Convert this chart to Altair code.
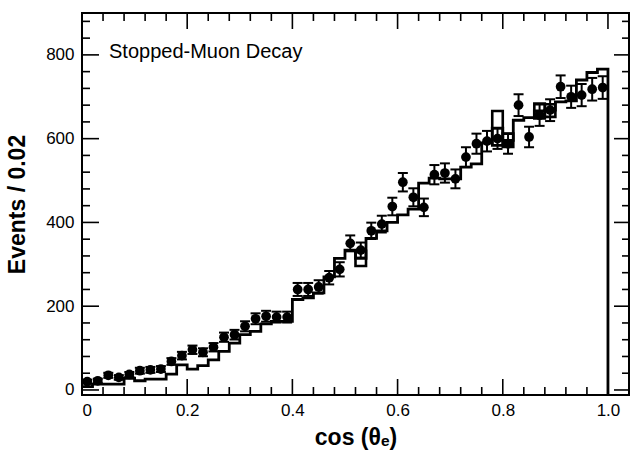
import altair as alt
import pandas as pd

# ---- data ----
n_bins = 50
bin_width = 0.02
data_counts = [20, 22, 35, 30, 37, 46, 48, 50, 68, 82,
               96, 90, 102, 126, 132, 152, 170, 176, 174, 174,
               240, 240, 246, 268, 288, 350, 334, 380, 396, 438,
               496, 460, 436, 514, 518, 504, 556, 588, 594, 600,
               588, 680, 604, 656, 668, 724, 700, 704, 718, 722]
data_errors = [4.5, 4.7, 6, 5.5, 6, 7, 7, 7, 8, 9,
               10, 9.5, 10, 11, 11.5, 12, 13, 13, 13, 13,
               15.5, 15.5, 16, 16, 17, 19, 18, 19.5, 20, 21,
               22, 21.5, 21, 23, 23, 22.5, 23.5, 24, 24.5, 24.5,
               24, 26, 24.5, 25.5, 26, 27, 26.5, 26.5, 27, 27]
mc_counts = [8, 14, 14, 14, 28, 22, 26, 26, 38, 60,
             50, 58, 72, 92, 112, 132, 140, 158, 164, 164,
             216, 220, 232, 270, 314, 334, 314, 362, 380, 400,
             418, 432, 494, 506, 504, 504, 532, 540, 590, 625,
             596, 644, 650, 666, 668, 688, 690, 740, 758, 766]
box_bins = [26, 39, 40, 43, 44]
box_lo = [296, 584, 580, 648, 652]
box_hi = [332, 666, 612, 684, 682]

x_major = [0.2, 0.4, 0.6, 0.8, 1.0]
x_minor = [0.04, 0.08, 0.12, 0.16, 0.24, 0.28, 0.32, 0.36, 0.44, 0.48, 0.52, 0.56,
           0.64, 0.68, 0.72, 0.76, 0.84, 0.88, 0.92, 0.96]
y_major = [200, 400, 600, 800]
y_minor = [40, 80, 120, 160, 240, 280, 320, 360, 440, 480, 520, 560,
           640, 680, 720, 760, 840, 880]
x_labels = [0, 0.2, 0.4, 0.6, 0.8, 1.0]
y_labels = [0, 200, 400, 600, 800]

title_text = "Stopped-Muon Decay"
x_title = "cos (θₑ)"
y_title = "Events / 0.02"

W, H = 547, 382
FONT = "Liberation Sans"

xs = alt.Scale(domain=[0, 1.04], nice=False, zero=False)
ys = alt.Scale(domain=[-12, 900], nice=False, zero=False)

# ---- tables ----
edges = [round(i * bin_width, 2) for i in range(n_bins)]
centers = [round(e + bin_width / 2, 3) for e in edges]

mc_df = pd.DataFrame({
    "x": edges + [1.0, 1.0],
    "y": mc_counts + [mc_counts[-1], -12],
    "o": list(range(n_bins + 2)),
})
pts_df = pd.DataFrame({
    "x": centers,
    "y": data_counts,
    "lo": [c - e for c, e in zip(data_counts, data_errors)],
    "hi": [c + e for c, e in zip(data_counts, data_errors)],
})
caps_df = pd.DataFrame({
    "x": centers + centers,
    "y": pts_df["lo"].tolist() + pts_df["hi"].tolist(),
})
box_df = pd.DataFrame({
    "x": [edges[b] for b in box_bins],
    "x2": [round(edges[b] + bin_width, 2) for b in box_bins],
    "lo": box_lo,
    "hi": box_hi,
})

ax_x = alt.Axis(values=x_labels, title=x_title, ticks=False, domain=False, grid=False,
                labelExpr="datum.value == 0 ? '0' : format(datum.value, '.1f')",
                labelFont=FONT, labelFontSize=17, labelColor="black", labelPadding=7,
                titleFont=FONT, titleFontSize=23, titleFontWeight="bold",
                titleColor="black", titlePadding=8)
ax_y = alt.Axis(values=y_labels, title=y_title, ticks=False, domain=False, grid=False,
                labelFont=FONT, labelFontSize=17, labelColor="black", labelPadding=8,
                titleFont=FONT, titleFontSize=23, titleFontWeight="bold",
                titleColor="black", titlePadding=16)


def X(field):
    return alt.X(field, scale=xs, axis=ax_x, title=x_title)


def Y(field):
    return alt.Y(field, scale=ys, axis=ax_y, title=y_title)


mc_line = alt.Chart(mc_df).mark_line(interpolate="step-after", color="black",
                                     strokeWidth=2.8, clip=True).encode(
    x=X("x:Q"), y=Y("y:Q"), order="o:Q",
)

boxes = alt.Chart(box_df).mark_rect(fillOpacity=0, stroke="black", strokeWidth=2.6).encode(
    x=X("x:Q"), x2="x2:Q", y=Y("lo:Q"), y2="hi:Q",
)

err = alt.Chart(pts_df).mark_rule(color="black", strokeWidth=2).encode(
    x=X("x:Q"), y=Y("lo:Q"), y2="hi:Q",
)

caps = alt.Chart(caps_df).mark_tick(orient="horizontal", color="black", size=10,
                                    thickness=2, opacity=1).encode(
    x=X("x:Q"), y=Y("y:Q"),
)

dots = alt.Chart(pts_df).mark_circle(color="black", size=95, opacity=1).encode(
    x=X("x:Q"), y=Y("y:Q"),
)


def xticks(vals, y0, y1):
    return alt.Chart(pd.DataFrame({"t": vals})).mark_rule(color="black", strokeWidth=1.6).encode(
        x=X("t:Q"), y=alt.value(y0), y2=alt.value(y1))


def yticks(vals, x0, x1):
    return alt.Chart(pd.DataFrame({"t": vals})).mark_rule(color="black", strokeWidth=1.6).encode(
        y=Y("t:Q"), x=alt.value(x0), x2=alt.value(x1))


tick_layers = [
    xticks(x_major, H, H - 16), xticks(x_minor, H, H - 8),
    xticks(x_major, 0, 16), xticks(x_minor, 0, 8),
    yticks([0] + y_major, 0, 17), yticks(y_minor, 0, 8),
    yticks([0] + y_major, W, W - 15), yticks(y_minor, W, W - 7),
]

label = alt.Chart(pd.DataFrame({"t": [title_text]})).mark_text(
    align="left", baseline="alphabetic", font=FONT, fontSize=20, color="black"
).encode(x=alt.value(27), y=alt.value(45), text="t:N")

chart = alt.layer(mc_line, boxes, err, caps, dots, *tick_layers, label).properties(
    width=W, height=H,
    padding={"left": 82, "top": 13, "right": 2, "bottom": 56},
    autosize="none",
).configure_view(stroke="black", strokeWidth=2)

chart.save("out.html", embed_options={"renderer": "svg", "actions": False})
